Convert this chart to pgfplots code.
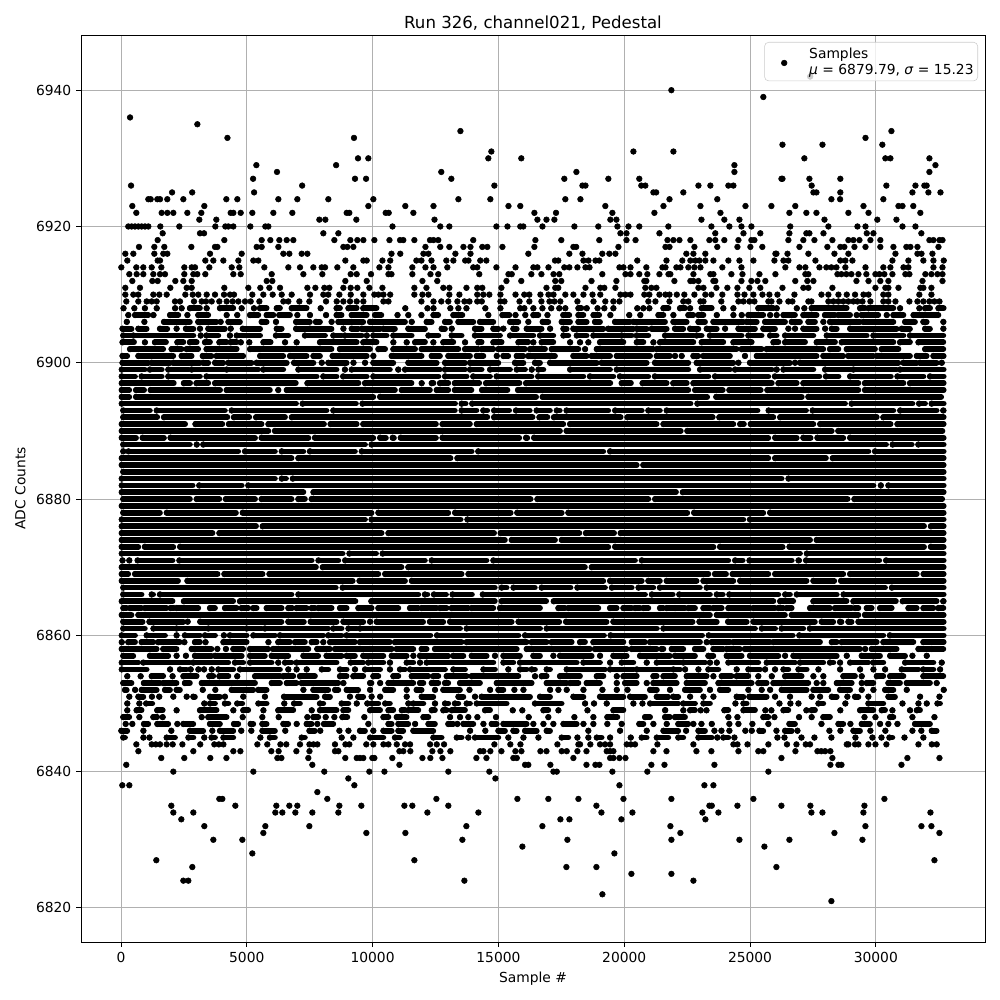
\documentclass[border=0pt]{standalone}
\usepackage{fontspec}
\setmainfont{DejaVu Sans}
\usepackage{pgfplots}
\pgfplotsset{compat=1.18}
\definecolor{gridc}{HTML}{B0B0B0}
\pgfplotsset{
  dots/.style={forget plot,only marks,mark=*,mark size=2.05pt,color=black,mark options={draw=none,fill=black}},
  runs/.style={dots,error bars/.cd,x dir=plus,x explicit,error mark=none,
    error bar style={line width=4.1pt,line cap=round,color=black}}}
% \P{row value}{x\\x\\...}: single samples on one ADC row
\renewcommand\P[2]{\addplot[dots] table[x index=0,y expr=#1,header=false,row sep=\\]{#2};}
% \R{row value}{a b\\a b\\...}: runs of merged samples on one ADC row, from x=a to x=b
\newcommand\R[2]{\addplot[runs] table[x index=0,y expr=#1,x error plus expr=\thisrowno{1}-\thisrowno{0},header=false,row sep=\\]{#2};}
\begin{document}
\begin{tikzpicture}
\path[use as bounding box] (0,0) rectangle (10in,10in);
\begin{axis}[
  at={(0.81in,0.58in)},anchor=south west,scale only axis,width=9.04in,height=9.07in,
  xmin=-1590,xmax=34340,ymin=6815,ymax=6948.1,
  xtick={0,5000,...,30000},ytick={6820,6840,...,6940},
  xtick pos=bottom,ytick pos=left,tick align=outside,major tick length=3.5pt,
  tick style={black,line width=0.7pt},axis line style={line width=0.7pt},
  grid=major,grid style={gridc,line width=0.7pt},
  scaled ticks=false,
  /pgf/number format/.cd,1000 sep={},assume math mode=true,/pgfplots/.cd,
  tick label style={font=\fontsize{10}{12}\selectfont},
  title={Run 326, channel021, Pedestal},title style={font=\fontsize{12}{14}\selectfont,yshift=-6pt},
  xlabel={Sample \#},ylabel={ADC Counts},ylabel style={yshift=0.7pt},
  label style={font=\fontsize{10}{12}\selectfont},
  legend style={at={(1,1)},anchor=north east,xshift=-0.07in,yshift=-0.07in,fill=white,fill opacity=0.8,text opacity=1,
    draw=black!20,rounded corners=3pt,font=\fontsize{10}{12}\selectfont,inner xsep=1pt,inner ysep=1pt},
  legend cell align=left,
]
\P{6942}{27390\\}
\P{6940}{21875\\}
\P{6939}{25530\\}
\P{6936}{360\\}
\P{6935}{3035\\}
\P{6934}{13490\\30620\\}
\P{6933}{4230\\9260\\29590\\}
\P{6932}{26290\\27880\\30260\\}
\P{6931}{14720\\20365\\21955\\}
\P{6930}{9420\\9830\\14600\\15910\\27160\\30380\\30580\\32130\\}
\P{6929}{5380\\8550\\24380\\32370\\}
\P{6928}{6200\\12730\\18100\\24380\\32130\\}
\P{6927}{5250\\9300\\9740\\13130\\17620\\19370\\20600\\26250\\26290\\27360\\28590\\}
\P{6926}{400\\7200\\14840\\18340\\18460\\20680\\20840\\22950\\23425\\24140\\24340\\27450\\30420\\31575\\31930\\32020\\}
\P{6925}{2030\\2830\\5290\\21160\\21270\\22350\\27520\\27640\\28590\\31455\\32090\\32570\\}
\P{6924}{1086\\1180\\1444\\1550\\1840\\2478\\4187\\4624\\6254\\7009\\8241\\10030\\13410\\14680\\17660\\18260\\21800\\23700\\28235\\28580\\30300\\}
\P{6923}{450\\3312\\9831\\11300\\12420\\15400\\15870\\19250\\21560\\23030\\24820\\25850\\26800\\29510\\30900\\31060\\31490\\}
\P{6922}{609\\1616\\1842\\2080\\2637\\3193\\4359\\4465\\4757\\5220\\6055\\6810\\8970\\9076\\10520\\10640\\11620\\16430\\17290\\19530\\21200\\23825\\26565\\27240\\27640\\28910\\29710\\31770\\}
\P{6921}{3113\\3789\\7884\\8122\\9354\\12460\\16550\\16910\\17225\\19450\\19690\\23070\\23980\\24580\\27960\\30060\\30820\\}
\P{6920}{290\\424\\556\\689\\821\\954\\1086\\1563\\2318\\3750\\4147\\4266\\4465\\5141\\5737\\5856\\10790\\12690\\13050\\14920\\15360\\15870\\15990\\16750\\18020\\18970\\19730\\20170\\20600\\21755\\23465\\24180\\24660\\25055\\26600\\28115\\29270\\29590\\31060\\31575\\}
\P{6919}{1656\\3140\\3300\\8042\\8639\\19850\\20090\\21400\\23620\\24740\\25410\\26565\\27240\\27360\\27920\\29640\\29905\\31810\\}
\P{6918}{1457\\4107\\5591\\5936\\6294\\6585\\6850\\8480\\9116\\9394\\9633\\10070\\10670\\11090\\11220\\11660\\12280\\12420\\12610\\14000\\16470\\17500\\19010\\20090\\20450\\21720\\21955\\22195\\22630\\23385\\23620\\23980\\24540\\25055\\25175\\26525\\27120\\27560\\28275\\28910\\29110\\29350\\29785\\30180\\32130\\32290\\32530\\32650\\}
\P{6917}{715\\1325\\1722\\2796\\3736\\3830\\5392\\5591\\6254\\8838\\8997\\9235\\12100\\12690\\13050\\13610\\13890\\14360\\14560\\15160\\16430\\17980\\18090\\19770\\21640\\21800\\22790\\23700\\24500\\25015\\25490\\26965\\28075\\28590\\28750\\29150\\29590\\30180\\30700\\31215\\31375\\31655\\32490\\}
\P{6916}{172\\490\\1325\\1682\\1842\\3538\\4796\\6453\\6691\\7181\\7407\\10750\\11100\\12020\\12220\\13290\\13890\\16190\\17820\\18340\\19130\\19410\\19650\\22470\\22750\\23225\\26010\\26050\\26490\\27320\\28355\\28910\\30780\\31655\\31815\\32250\\}
\P{6915}{251\\1457\\1550\\3352\\3670\\4068\\4664\\5260\\5459\\8917\\9633\\9765\\10390\\10700\\11740\\11940\\12340\\12930\\13210\\13680\\13810\\14280\\14520\\17250\\17380\\18380\\18580\\18860\\19010\\20520\\21680\\22310\\22630\\22830\\22990\\23225\\23545\\24140\\24580\\25135\\25970\\26330\\26525\\27600\\28590\\28790\\29070\\30660\\31295\\31890\\32290\\32700\\}
\P{6914}{13\\609\\887\\1219\\1603\\2517\\2809\\2941\\3511\\4399\\4703\\5697\\6651\\7115\\7645\\7976\\8109\\8599\\9235\\10270\\10630\\11580\\12100\\12420\\12970\\14000\\14160\\14920\\15680\\16390\\16550\\16990\\17620\\17820\\18140\\18460\\18620\\19810\\19970\\20250\\20880\\21520\\21640\\22075\\22235\\22550\\22790\\23030\\23900\\24660\\26405\\26965\\27200\\27760\\28035\\28235\\28435\\28790\\29590\\30300\\30580\\31100\\31295\\32290\\32650\\}
\P{6913}{331\\623\\887\\1285\\1550\\1749\\2517\\2875\\3034\\3352\\4465\\4757\\5989\\7248\\8003\\9129\\9367\\9937\\10630\\10750\\11580\\12300\\12610\\14240\\15400\\15530\\16310\\16710\\17190\\17420\\19130\\20050\\20250\\20600\\20920\\21400\\21760\\21835\\22750\\23425\\23545\\24260\\24700\\25375\\26010\\27200\\27320\\28475\\28635\\28830\\29030\\29310\\29625\\29985\\30145\\30340\\30660\\31175\\31335\\31970\\32210\\32450\\32650\\}
\P{6912}{450\\1245\\1457\\2160\\2478\\2809\\5790\\6015\\8917\\9765\\11980\\12570\\15320\\15910\\17260\\17500\\18700\\19690\\20800\\20880\\21995\\22630\\22750\\22950\\23545\\23620\\24660\\25055\\25295\\25610\\26800\\27280\\27520\\29230\\29710\\30180\\30500\\31855\\32650\\}
\P{6911}{172\\755\\1961\\2610\\2809\\4107\\5061\\5538\\5896\\6320\\7407\\7725\\8082\\8281\\8838\\9129\\9394\\9871\\10390\\11660\\12140\\12810\\13050\\13730\\14160\\14360\\15120\\16910\\17260\\17380\\18460\\19050\\19210\\19650\\20840\\21080\\21280\\22950\\23150\\23665\\24100\\24500\\24975\\25410\\26290\\27120\\27320\\28275\\29985\\30380\\30500\\30900\\31770\\31890\\32210\\}
\P{6910}{172\\490\\689\\1285\\1523\\1815\\2557\\2849\\3074\\3405\\3736\\4094\\4333\\4491\\5220\\5657\\6028\\6386\\6783\\7513\\8042\\8241\\8679\\9129\\9633\\10070\\10230\\10430\\10700\\11660\\11980\\12220\\13050\\13450\\14160\\14400\\14640\\15080\\15680\\16030\\16230\\16670\\16990\\17190\\17660\\17980\\18380\\18740\\19050\\19850\\20050\\20250\\20800\\21000\\21400\\21640\\21800\\22090\\22390\\22790\\23225\\23465\\23900\\24500\\24780\\25135\\25495\\25770\\26090\\26765\\27840\\28115\\28515\\28845\\29175\\29510\\29710\\30300\\30500\\31730\\32210\\}
\P{6909}{212\\689\\1020\\1219\\1417\\2146\\2345\\2901\\3206\\3379\\3604\\3908\\4200\\4438\\4664\\4929\\5154\\5499\\6453\\6651\\7089\\7486\\8149\\8573\\8838\\9103\\9367\\9633\\10430\\10630\\11940\\12420\\12730\\13010\\13370\\13650\\13850\\14160\\14340\\15080\\15240\\15840\\16230\\16710\\17030\\17225\\17460\\18140\\18780\\19250\\19570\\19810\\20960\\21240\\21800\\22350\\22550\\23030\\23150\\23860\\24540\\24740\\24975\\25175\\25730\\25850\\26170\\26525\\26685\\27320\\27440\\28115\\28315\\28515\\28710\\28910\\29110\\29270\\29470\\29785\\30300\\30500\\30780\\31335\\31655\\31890\\32130\\32330\\32530\\}
\R{6908}{100 100\\530 530\\950 950\\1420 1420\\2150 2150\\2410 2410\\2740 3140\\3405 3405\\3935 4465\\4795 4795\\5285 5285\\5525 5790\\6190 6320\\6785 7380\\7935 7935\\8570 8705\\9040 9370\\9630 10160\\11300 11300\\12180 12180\\12420 12420\\13090 13090\\13410 13410\\13730 13730\\14480 14480\\15080 15080\\15870 15870\\16030 16030\\16390 16390\\16750 16750\\17100 17100\\17420 17420\\17660 17660\\18180 18300\\18510 18510\\18940 18940\\19210 19210\\19570 19570\\20520 20520\\20760 20760\\21000 21000\\21560 21760\\22220 22420\\22620 22620\\23080 23480\\23940 23940\\24340 24340\\25330 25930\\26060 26060\\26860 26860\\27160 27160\\27450 28845\\29375 29575\\29710 30700\\30965 30965\\31730 31730\\31960 32160\\32490 32700\\}
\R{6907}{290 290\\560 1090\\1290 1290\\1950 2280\\2640 2640\\3070 3470\\4200 4200\\4620 4620\\5130 5460\\5790 6060\\6290 6720\\7010 7010\\7510 7510\\8150 8150\\8570 8770\\9170 9770\\10100 10350\\10990 10990\\11420 11420\\11940 11940\\12420 12610\\13210 13570\\14600 14600\\15160 15440\\15680 15680\\16070 16070\\16390 16590\\16950 16950\\17580 17820\\18180 18380\\18780 19010\\19450 19450\\20200 20200\\20640 20640\\21360 21560\\21955 21955\\22550 22750\\22950 23150\\23680 23680\\24340 24340\\24670 24670\\24935 25530\\25800 25800\\26060 26060\\26330 26790\\27120 27650\\27980 28380\\28510 28980\\29240 29240\\29440 30100\\30435 30435\\30700 31100\\31500 32490\\}
\R{6906}{230 230\\930 930\\1710 2740\\3070 3800\\3960 3960\\4270 4730\\5590 5790\\6160 6160\\6960 7510\\7750 7910\\8370 8370\\8640 9630\\9900 11290\\11555 11555\\12150 12350\\12880 13080\\13410 14005\\14270 14800\\15465 15795\\16190 16190\\16760 16985\\17515 17850\\18180 18510\\18840 19040\\19635 20235\\20365 21625\\21955 22485\\22950 23215\\23545 24740\\24870 25270\\25600 26395\\26660 26990\\27320 27585\\27915 27915\\28180 29375\\29510 30700\\31165 31560\\31890 32025\\32685 32685\\}
\R{6905}{60 420\\690 1020\\1550 1840\\2210 2210\\2580 2880\\3140 3140\\3470 4130\\4360 4360\\4840 5530\\6190 6390\\6960 7450\\7510 8370\\8840 8840\\9170 9430\\9570 10300\\10430 10890\\11420 12085\\12745 12880\\13145 13145\\14070 14335\\14800 15000\\15200 15200\\15595 15730\\16125 16720\\17055 17055\\17585 17715\\17980 19175\\19370 20365\\20500 20895\\21095 21690\\22020 22350\\22620 22950\\23280 23680\\24010 24010\\24540 25200\\25530 25995\\26525 26525\\26790 26790\\27120 27650\\27985 27985\\28250 28450\\28980 30830\\31030 31360\\31960 32155\\32685 32685\\}
\R{6904}{90 360\\490 2880\\3170 3170\\3400 3870\\4330 4330\\4600 5530\\6160 6650\\7310 8110\\8440 8770\\8900 9570\\9770 9770\\10030 10560\\10825 11555\\12220 12615\\13145 13540\\14070 15065\\15465 16390\\16655 17185\\17585 17780\\18115 18510\\18775 19835\\19900 20300\\20500 20960\\21625 22750\\22880 23080\\23410 24670\\24935 25465\\25800 26060\\26395 27520\\28050 29640\\29905 31100\\31360 32685\\}
\R{6903}{60 520\\950 950\\1350 1790\\2240 2480\\2740 3010\\3340 3540\\3910 4200\\4360 4600\\4760 4760\\5100 5100\\5660 5950\\6520 6520\\6980 6980\\7910 9370\\9630 10160\\10825 10825\\11355 11355\\11690 12085\\12415 12415\\12810 13210\\13675 13675\\14205 14335\\14800 15130\\15795 16190\\16390 16390\\16720 17185\\17850 17850\\18245 18245\\18575 18575\\19040 19970\\20500 20765\\21160 21160\\21425 22750\\23080 23940\\24340 25070\\25930 26130\\26395 27190\\27650 28380\\28645 30700\\30965 31360\\31695 32685\\}
\R{6902}{360 1680\\2010 2410\\2610 3070\\3400 4600\\5130 8370\\8700 9900\\10230 10500\\10825 11690\\11950 13410\\13675 14205\\14335 14800\\15000 16060\\16260 16855\\17120 18180\\18445 18445\\18910 21160\\21295 24470\\24670 25465\\25665 27915\\28180 28515\\28845 29970\\30235 30900\\31960 32685\\}
\R{6901}{60 250\\690 2080\\2410 2810\\3250 3600\\3800 4860\\5530 6450\\6720 7380\\7650 7910\\8410 9770\\10030 10030\\10760 11950\\12350 12680\\13010 13875\\14140 14405\\14935 14935\\15200 15395\\15730 15995\\16190 17250\\17980 18510\\18710 19440\\19705 21030\\21295 21825\\22020 22020\\22285 22285\\22750 22950\\23150 24205\\24800 24800\\25270 27650\\27915 28710\\28910 29905\\30040 31360\\31630 32025\\32290 32700\\}
\R{6900}{60 1090\\1220 1950\\2080 3140\\3270 3470\\3740 4070\\4270 5190\\5390 6590\\6880 7650\\7980 7980\\8240 8970\\9240 9240\\9700 9700\\10030 10825\\11420 12550\\12880 13675\\13875 15000\\15660 15995\\16455 16655\\17055 18910\\19105 20895\\21225 22550\\22880 24340\\24540 24540\\25000 26590\\26790 26790\\26990 30900\\31100 31630\\31760 32420\\32620 32620\\}
\R{6899}{30 950\\1150 1620\\1880 2680\\2810 4070\\4200 5460\\5660 6450\\7050 8570\\8900 8900\\9170 10690\\11020 11020\\11290 12680\\12880 13675\\13875 14335\\14670 15465\\15730 16060\\16325 16325\\16590 16790\\17850 19440\\19705 22550\\23015 24205\\24405 25865\\26060 26060\\26330 27520\\27985 28980\\29110 30830\\30965 32700\\}
\R{6898}{30 560\\820 1620\\1880 3140\\3400 7780\\8040 8570\\8830 9770\\10030 12620\\12880 13740\\14000 14670\\14930 16320\\16580 18380\\18640 19570\\19830 20960\\21220 23350\\23610 25730\\25990 27760\\28020 28520\\28980 30600\\30860 31895\\32155 32700\\}
\R{6897}{30 2100\\2500 2750\\3000 3470\\3740 6950\\7410 9440\\9700 11550\\11950 11950\\12350 12420\\12680 13010\\13270 14240\\14510 15840\\16100 19450\\19900 20270\\20730 21690\\21950 22490\\22750 25870\\26130 26860\\27120 29310\\29570 31100\\31360 32700\\}
\R{6896}{30 330\\600 920\\1180 3940\\4200 5920\\6250 6250\\6590 10890\\11160 12280\\12550 13010\\13270 13930\\14350 15360\\15780 22550\\22820 23920\\24180 25430\\25690 29310\\29570 32700\\}
\R{6895}{30 330\\600 10030\\10300 16500\\16760 23300\\23660 27060\\27320 32600\\}
\R{6894}{30 6960\\7220 9340\\9600 13280\\13540 13700\\13960 22640\\22910 28780\\29040 31460\\31720 31960\\32220 32700\\}
\R{6893}{90 1150\\1420 4130\\4400 8170\\8440 13270\\13540 14130\\14400 14560\\14830 15430\\15700 16250\\16520 17050\\17320 17440\\17710 19370\\19640 20700\\20960 21420\\21690 25300\\25740 27230\\27490 30700\\30970 32420\\32680 32700\\}
\R{6892}{90 1440\\1710 4230\\4490 5100\\5370 6520\\6790 14560\\14830 16360\\16630 16950\\17210 19860\\20130 23520\\23780 25930\\26200 30040\\30300 32700\\}
\R{6891}{30 2550\\2960 4030\\4290 5590\\5860 8070\\8330 9370\\9630 12520\\12780 13870\\14140 17580\\17850 21290\\21560 24340\\24610 24760\\25030 27520\\27790 30590\\30860 32700\\}
\R{6890}{30 5860\\6120 17450\\17710 22250\\22510 28250\\28510 32650\\}
\R{6889}{30 600\\860 1710\\1970 5330\\5590 7450\\7710 10030\\10300 10530\\10800 10850\\11120 12520\\12780 15830\\16100 16150\\16420 25730\\26000 26860\\27120 27410\\27680 28710\\28980 32700\\}
\R{6888}{90 2740\\3010 3010\\3270 9700\\9960 30410\\30670 31430\\31690 32700\\}
\R{6887}{90 90\\300 4660\\4930 6120\\6390 7250\\7510 9300\\9570 13940\\14200 19170\\19440 29710\\29970 32700\\}
\R{6886}{30 6780\\7050 13100\\13370 25730\\26000 28020\\28290 32700\\}
\R{6885}{30 20500\\20760 32700\\}
\R{6884}{90 32700\\}
\R{6883}{30 6120\\6390 6560\\6830 26260\\26530 32700\\}
\R{6882}{30 2850\\3110 4800\\5060 29910\\30200 30200\\30500 32700\\}
\R{6881}{30 7250\\7650 22060\\22330 32700\\}
\R{6880}{90 2740\\3010 3910\\4170 5330\\5590 6780\\7050 7310\\7580 16280\\16550 20960\\21230 28880\\29150 32640\\}
\R{6879}{30 32700\\}
\R{6878}{90 1550\\1820 4570\\4840 9960\\10230 13010\\13280 15490\\15750 17520\\17780 22510\\22780 25530\\25800 32700\\}
\R{6877}{30 9700\\9960 13500\\13770 24740\\25000 32700\\}
\R{6876}{30 5370\\5630 31920\\32190 32700\\}
\R{6875}{30 3640\\3910 10360\\10630 14830\\15090 18220\\18480 19600\\19860 32700\\}
\R{6874}{30 15260\\15530 17250\\17520 27390\\27650 32700\\}
\R{6873}{30 690\\950 2080\\2350 19370\\19640 23550\\23810 26300\\26570 31920\\32190 32700\\}
\R{6872}{30 8810\\9080 10140\\10400 26990\\27260 32700\\}
\R{6871}{60 60\\330 330\\660 2050\\2320 7580\\7850 8640\\8910 12080\\12350 14530\\14800 20430\\20700 24140\\24410 24710\\24980 26660\\26930 26960\\27230 30140\\30410 32700\\}
\R{6870}{30 7750\\8020 11150\\11420 18440\\18710 32700\\}
\R{6869}{30 290\\560 3840\\4110 5630\\5900 10230\\10500 13540\\13810 23350\\23610 24050\\24310 25730\\26000 28710\\28980 31630\\31900 32700\\}
\R{6868}{30 2270\\2640 9210\\9480 11290\\11560 19170\\19440 20700\\20960 21420\\21690 22880\\23150 24340\\24610 27250\\27520 28350\\28620 32700\\}
\R{6867}{90 8540\\8810 14860\\15130 15330\\15600 16450\\16720 17870\\18140 19240\\19510 20300\\20570 21160\\21420 23010\\23280 30370\\30640 32700\\}
\R{6866}{90 820\\1220 1280\\1550 6780\\7050 11820\\12080 12180\\12440 12920\\13180 13950\\14380 20830\\21100 21930\\22190 23410\\23680 23920\\24180 26130\\26400 26590\\26860 28450\\28720 32700\\}
\R{6865}{30 2050\\2500 4460\\4730 9320\\9950 14860\\15130 16900\\17200 25930\\26200 26720\\27520 28840\\29110 30800\\31070 32420\\32680 32700\\}
\R{6864}{93 226\\358 822\\954 1815\\1975 2107\\2213 3074\\3538 3737\\4134 4598\\4797 5062\\5261 5393\\5790 6387\\6652 6811\\6983 7380\\7579 7712\\7844 8374\\8705 8970\\9434 9964\\10229 11024\\11488 11819\\11951 12550\\12680 12945\\13144 13806\\13939 14800\\15065 16655\\17384 17650\\17781 18974\\19438 19703\\19968 20299\\20431 20630\\20763 20961\\21425 21558\\21690 22088\\22022 22419\\22552 22817\\23148 23413\\23545 23877\\24142 25003\\25135 25997\\26129 26328\\26461 26659\\27388 28183\\28382 29044\\29177 29310\\29641 29839\\30170 30634\\31297 31628\\31893 32291\\32489 32688\\}
\R{6863}{30 420\\690 23410\\23680 26390\\26660 29310\\29570 32700\\}
\R{6862}{90 860\\1130 2480\\2650 2650\\3150 6380\\6650 7270\\7540 8570\\8840 9630\\9900 9900\\10160 12010\\12280 12810\\13080 15530\\15800 17420\\17690 19300\\19570 22720\\22990 23680\\24130 24870\\25140 27580\\27850 28310\\28580 28640\\28910 29040\\29310 32700\\}
\R{6861}{90 950\\1290 2080\\2210 3340\\3470 4860\\4995 5590\\5720 8240\\8440 8770\\9040 9370\\9500 13480\\13740 16660\\16920 21300\\21560 25200\\25470 26000\\26260 27120\\27380 32700\\}
\R{6860}{30 560\\1020 1750\\2210 2210\\2540 3140\\3340 3740\\4090 4090\\4330 4995\\5260 6120\\6320 8040\\8240 8770\\8970 12300\\12560 15800\\16060 19200\\19460 23100\\23360 26700\\26960 30300\\30560 32700\\}
\R{6859}{30 30\\290 560\\820 1290\\1480 2340\\2520 2520\\2940 3140\\3360 3360\\4070 4995\\5860 5860\\6250 6720\\6920 7310\\7580 7780\\8040 8040\\8310 9300\\9500 10690\\10890 13540\\13740 16125\\16325 16920\\17120 17915\\18245 18445\\18775 19970\\20300 20830\\21030 23015\\23280 23280\\23480 24205\\24340 25800\\25930 27785\\28250 28450\\28645 30040\\30300 31495\\31890 32700\\}
\R{6858}{30 1420\\1680 2210\\2810 3600\\3830 3830\\4170 4170\\4465 4860\\5130 5860\\6050 7450\\7800 8310\\8510 9830\\9900 10760\\10960 11620\\11950 12150\\12480 15730\\16125 18645\\18840 20100\\20300 21295\\21490 21560\\21890 22350\\22815 23150\\23545 23940\\24075 24605\\24800 29375\\29575 29575\\29840 30830\\31695 32155\\32225 32685\\}
\R{6857}{90 490\\1150 1880\\2210 2210\\2580 2580\\2940 3600\\3740 4800\\5130 5720\\5990 6650\\7250 7840\\8170 8770\\8970 9300\\9630 10430\\10760 11355\\11620 11620\\11885 13010\\13210 13610\\13940 14535\\14865 14865\\15200 15860\\16390 16655\\17185 17185\\17450 18710\\19040 19040\\19570 20100\\20630 21820\\22020 22815\\23345 23545\\24075 24670\\25000 26130\\26395 26395\\26725 28450\\28845 28845\\29440 30170\\30570 31165\\31455 31455\\32025 32025\\}
\R{6856}{30 690\\890 2740\\2875 4266\\4530 4860\\5130 5990\\6250 6250\\6520 6780\\6980 8570\\9130 9630\\9830 10430\\10690 10690\\11355 11620\\11885 11885\\12150 14800\\15200 15595\\15860 18115\\18380 19040\\19440 19440\\19900 20365\\20895 20895\\21295 22220\\22350 23215\\23410 23410\\23680 23680\\24140 25330\\25665 26790\\26990 27915\\28180 28315\\28580 28580\\28980 29705\\29905 30300\\31165 32290\\32620 32620\\}
\R{6855}{30 1020\\1950 1950\\2345 2610\\2770 2770\\3075 3075\\3300 3300\\3605 3605\\3870 4465\\4730 6320\\6650 6650\\6980 6980\\7380 7380\\7980 8240\\8705 8970\\9300 9300\\9700 10300\\10690 10690\\11090 11290\\11490 12880\\13210 13675\\14405 14865\\15395 15395\\15860 16125\\16325 16455\\16920 17055\\17715 19240\\19440 20365\\20500 21820\\21955 22220\\22420 22420\\22950 22950\\23345 23745\\24470 24470\\24935 25400\\25600 25600\\25995 25995\\26330 26525\\26925 27255\\27720 27720\\28580 28580\\29375 29375\\29905 29905\\30370 30370\\31030 31695\\31890 32290\\32555 32555\\}
\R{6854}{250 250\\780 780\\1220 1680\\2050 2050\\2480 3010\\3510 3670\\3910 4270\\4620 4620\\5330 6320\\6450 6850\\7115 7710\\8705 8970\\9235 9630\\10030 10230\\10825 11025\\11555 12220\\12415 12615\\12945 13740\\13940 15795\\16455 16455\\16720 16920\\17450 18245\\18910 19175\\19705 19705\\19970 20500\\21160 21295\\21560 22020\\22485 23280\\23545 23545\\23875 24270\\24470 24935\\25330 25330\\25865 25865\\26395 27055\\27520 27520\\27915 27915\\28710 29175\\29440 29440\\30040 30300\\30570 31100\\31890 32685\\}
\R{6853}{90 420\\910 1550\\1680 2210\\2540 2740\\3210 5330\\5990 6320\\6590 6980\\7180 8640\\8840 8840\\9900 9960\\10300 10300\\10630 11620\\11885 12020\\12350 12615\\12880 13010\\13475 14270\\14935 16325\\16920 17715\\17850 18180\\18510 19040\\19705 19705\\20035 20500\\20895 20895\\21160 22090\\22485 23215\\23745 25070\\25330 25665\\25930 27320\\27650 27650\\27915 27915\\28450 29045\\29440 29440\\29640 29905\\30500 30965\\31230 32155\\32420 32420\\}
\R{6852}{160 230\\560 560\\820 1420\\1750 1950\\2210 2345\\3250 3250\\3750 3750\\4400 5260\\5460 5790\\7250 7250\\7645 8240\\8510 8640\\8970 9430\\9900 9900\\10500 10825\\11355 11355\\11750 11950\\12480 12480\\12810 13475\\13850 13850\\14670 14670\\15000 15200\\15635 15635\\15995 15995\\17055 17055\\17385 17385\\17715 17715\\18380 18380\\19135 19135\\19705 19705\\20130 20130\\21030 21300\\21820 21820\\22420 23015\\23410 23410\\23810 24140\\24935 24935\\25465 25465\\25800 25800\\26260 27255\\27520 28115\\28580 28980\\29440 29440\\29905 29905\\30370 30700\\31230 31230\\32700 32700\\}
\R{6851}{330 330\\690 890\\1230 1230\\1520 1520\\2080 2080\\2610 2610\\2875 2940\\3540 3935\\4130 4130\\4860 4860\\5720 5720\\6480 7780\\8110 8310\\9100 9100\\9430 9630\\9960 9960\\10300 10300\\11355 11355\\11950 12415\\13410 13610\\14070 14070\\14335 16260\\16655 17055\\17980 18380\\19040 19970\\20235 20830\\21295 21755\\21955 22150\\22620 22620\\23150 23150\\23545 23545\\24470 24740\\24975 25665\\25995 25995\\26590 26590\\27450 27450\\27785 27785\\28250 28450\\28870 28870\\29175 29310\\29705 29705\\30500 30765\\31760 31760\\32530 32530\\}
\R{6850}{250 250\\730 730\\1000 1245\\3310 3310\\3540 3740\\4130 4270\\4620 4820\\5460 5790\\6490 6490\\6880 7115\\7910 8040\\8770 9040\\9370 9370\\9790 9790\\9970 10230\\10500 10690\\11420 11420\\11620 12020\\12480 12480\\12880 13010\\13275 13410\\13740 13875\\14140 15330\\16455 17515\\18445 18445\\18800 18800\\19305 19305\\20365 20365\\20725 20725\\21030 22150\\22350 22815\\23150 23410\\24420 24420\\24740 24870\\26170 26170\\26605 26605\\26925 26925\\27720 27915\\28790 28790\\29705 30300\\31060 31060\\31695 31695\\32025 32025\\32450 32555\\}
\R{6849}{250 250\\620 820\\1440 1660\\2210 2210\\3140 3800\\4465 4465\\4860 5060\\5660 5660\\6250 6850\\7580 7580\\7910 8570\\8840 9040\\9900 10300\\10630 10825\\11160 11290\\11420 11820\\12350 12480\\12810 12945\\13145 13675\\14470 14670\\15570 15570\\15950 15950\\16790 16985\\17385 17385\\18540 18540\\19570 19970\\21625 21640\\22350 22350\\22620 22815\\23040 23040\\23270 23270\\23980 24140\\24740 25200\\25610 25610\\25850 25850\\26330 26525\\27240 27240\\27450 27585\\28590 28590\\29375 29905\\30235 30370\\30660 30660\\31360 31360\\31630 31760\\}
\R{6848}{90 330\\730 730\\1285 1440\\1656 1656\\3206 3206\\3470 4200\\4836 4836\\5618 5618\\6267 6267\\7407 7407\\7645 7844\\8135 8135\\8480 8480\\8798 8997\\9672 9672\\10430 10630\\10960 11355\\12020 12220\\13080 13080\\13475 13475\\13805 13805\\14165 14165\\14905 14905\\16205 16205\\16985 16985\\18020 18020\\18775 18775\\19330 19730\\20830 21030\\21625 21820\\22020 22420\\24140 24140\\24500 24500\\25530 25730\\25970 25970\\26950 26950\\27450 27450\\27915 28180\\29550 29550\\29985 29985\\30570 30700\\31455 31455\\32330 32330\\}
\R{6847}{185 185\\450 450\\914 1086\\1444 1881\\2240 2240\\2478 2875\\3537 3935\\4491 4664\\5154 5260\\5618 5790\\6453 6651\\6983 6983\\7380 7579\\7804 7804\\8069 8440\\9831 9831\\10630 10760\\11025 11420\\11690 11690\\12220 12480\\13010 13210\\13370 13370\\13610 14005\\14405 14405\\14735 14935\\15200 16125\\16390 16390\\16790 16790\\17185 17185\\17585 18115\\18380 18380\\18775 18775\\19330 19330\\19900 19900\\20600 20765\\21160 21160\\21690 21690\\22150 22550\\22750 22750\\23070 23070\\23480 23480\\24180 24180\\24540 24540\\25095 25095\\25730 25730\\26565 26790\\27840 27840\\28515 28710\\28990 28990\\29440 29770\\30170 30170\\30500 30500\\30860 30860\\31560 32155\\}
\R{6846}{13 250\\890 890\\2000 2000\\2740 3270\\3630 3630\\3935 4465\\4780 4780\\5180 5180\\5620 6120\\6530 6530\\7490 7710\\7920 7920\\8680 8680\\9040 9040\\9500 9700\\10030 10030\\10430 10760\\11025 11220\\11620 12415\\13875 13875\\14480 14480\\15000 15265\\15595 15730\\16060 16525\\16920 17055\\18575 18575\\19835 19835\\20895 20895\\21560 22150\\22460 22460\\22950 23215\\23585 23585\\23865 23865\\24180 24180\\24815 24815\\25070 25070\\25375 25530\\26050 26050\\26395 26660\\26885 26885\\28155 28155\\28595 28595\\29110 29375\\29785 29785\\30380 30380\\31455 31455\\31810 31810\\32225 32420\\}
\R{6845}{90 160\\890 890\\1130 1130\\1815 2150\\2680 2880\\3310 3310\\3600 3740\\4070 4465\\5540 5540\\5920 6120\\7180 7310\\8770 8770\\9235 9235\\9900 10430\\10890 11090\\12415 12745\\13345 13540\\13805 13805\\14070 15000\\15395 15395\\15995 15995\\16590 16590\\17515 17780\\18140 18140\\18575 18575\\18910 19105\\19440 19440\\20260 20260\\20695 20895\\21295 21755\\22150 22350\\22950 23480\\23700 23700\\23940 24140\\24380 24380\\26090 26090\\26370 26370\\27045 27045\\27560 27560\\28235 28235\\29190 29190\\29865 29865\\30225 30225\\30540 30660\\31140 31140\\31890 31890\\}
\P{6844}{610\\1220\\1385\\1550\\1815\\2055\\2440\\3150\\3710\\3890\\4070\\5420\\5815\\6335\\6570\\7115\\7490\\7650\\7805\\8505\\8920\\9075\\9750\\10030\\10430\\10630\\10960\\11290\\11490\\12285\\12550\\12840\\14840\\15475\\15875\\17345\\18180\\18245\\18655\\19040\\19240\\19440\\20100\\20265\\20430\\21320\\22750\\24340\\24500\\24900\\25730\\26470\\26845\\27215\\27385\\28845\\28910\\29175\\29310\\29705\\29985\\30420\\31695\\32225\\32420\\}
\P{6843}{690\\2875\\4465\\4745\\5975\\6265\\6970\\7490\\8505\\8640\\11065\\11220\\11500\\12375\\12695\\13090\\14270\\14405\\14680\\15120\\15675\\15915\\16670\\16910\\17515\\17715\\18140\\18500\\19305\\19440\\19570\\21160\\21680\\22870\\23465\\24540\\25330\\25530\\26805\\27680\\27830\\27985\\28195\\}
\P{6842}{1600\\2515\\3550\\4190\\6215\\6375\\7445\\8915\\9370\\9500\\9630\\9990\\10070\\10785\\11980\\12295\\12775\\14125\\14525\\15595\\15730\\17980\\19440\\19570\\19810\\20050\\26250\\28275\\31255\\32530\\}
\P{6841}{210\\7605\\11065\\16060\\16190\\17065\\18500\\18855\\19015\\21080\\21600\\23585\\28195\\28515\\28635\\31020\\}
\P{6840}{2080\\5260\\8080\\9870\\10470\\13010\\14640\\17185\\17320\\19530\\20920\\25730\\}
\P{6839}{9036\\14880\\}
\P{6838}{52\\331\\9275\\19810\\23187\\23545\\}
\P{6837}{7804\\}
\P{6836}{3908\\4028\\8200\\12535\\15755\\16985\\18180\\19970\\21875\\25135\\30342\\}
\P{6835}{2000\\4545\\6174\\6691\\7009\\8679\\9553\\11263\\11580\\13010\\18895\\23386\\23480\\24500\\26248\\27400\\29547\\}
\P{6834}{2080\\2875\\6134\\6413\\6930\\7605\\8639\\12177\\14204\\19094\\20326\\23108\\23744\\27440\\27878\\29507\\32171\\}
\P{6833}{2398\\17464\\17822\\19888\\23227\\}
\P{6832}{3312\\5737\\7486\\13727\\16748\\21836\\29587\\31813\\32210\\}
\P{6831}{5658\\9752\\11303\\22233\\28355\\32528\\}
\P{6830}{3670\\4823\\13568\\17742\\21876\\24579\\26566\\29468\\}
\P{6829}{15953\\25572\\}
\P{6828}{5220\\19610\\}
\P{6827}{1404\\11660\\32330\\}
\P{6826}{2835\\17702\\18895\\26049\\}
\P{6825}{20286\\21876\\}
\P{6824}{2478\\2676\\13648\\22750\\}
\P{6822}{19133\\}
\P{6821}{28235\\}
\addlegendimage{legend image code/.code={\fill[black,fill opacity=1] (0.18in,-1pt) circle[radius=2.05pt]; \path (0,0) (0.40in,0);}}
\addlegendentry{{\begin{tabular}[b]{@{}l@{}}Samples\\\textit{μ} = 6879.79, \textit{σ} = 15.23\rule[-5pt]{0pt}{0pt}\end{tabular}}}
\end{axis}
\end{tikzpicture}
\end{document}
